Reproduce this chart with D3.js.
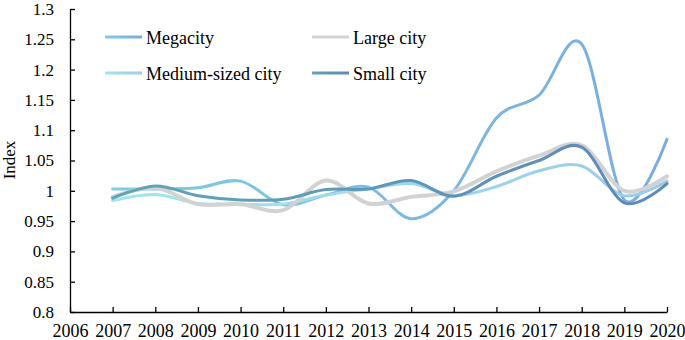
<!DOCTYPE html>
<html>
<head>
<meta charset="utf-8">
<script src="https://cdn.jsdelivr.net/npm/d3@7"></script>
<style>
  body { margin: 0; background: #fff; }
  text { font-family: "Liberation Serif", "Times New Roman", serif; fill: #000; }
</style>
</head>
<body>
<svg id="chart"></svg>
<script>
// Data
const years = [2007, 2008, 2009, 2010, 2011, 2012, 2013, 2014, 2015, 2016, 2017, 2018, 2019, 2020];
const megacity = [1.003, 1.003, 1.005, 1.016, 0.977, 0.993, 1.006, 0.954, 1.000, 1.120, 1.158, 1.242, 0.985, 1.085];
const largeCity = [0.990, 1.005, 0.978, 0.978, 0.968, 1.017, 0.979, 0.990, 0.999, 1.032, 1.058, 1.075, 1.000, 1.024];
const mediumCity = [0.984, 0.994, 0.979, 0.978, 0.978, 0.993, 1.003, 1.012, 0.992, 1.007, 1.033, 1.041, 0.992, 1.016];
const smallCity = [0.988, 1.008, 0.992, 0.985, 0.986, 1.002, 1.003, 1.017, 0.991, 1.024, 1.050, 1.072, 0.980, 1.012];
const xTicks = d3.range(2006, 2021);
const yTicks = [0.8, 0.85, 0.9, 0.95, 1, 1.05, 1.1, 1.15, 1.2, 1.25, 1.3];

const series = [
    { name: "Megacity", values: megacity, c0: "#7ecde0", c1: "#7aaae2", w: 3 },
    { name: "Large city", values: largeCity, c0: "#d2d2d2", c1: "#d2d2d2", w: 4 },
    { name: "Medium-sized city", values: mediumCity, c0: "#a3e4ef", c1: "#9acbea", w: 3 },
    { name: "Small city", values: smallCity, c0: "#5ea6b6", c1: "#5f88bc", w: 3 }
];

const margin = { top: 9, right: 18, bottom: 28, left: 70 };
const width = 685 - margin.left - margin.right;
const height = 340 - margin.top - margin.bottom;

const svg = d3.select("#chart")
    .attr("width", 685)
    .attr("height", 340);

const g = svg.append("g")
    .attr("transform", "translate(" + margin.left + "," + margin.top + ")");

const x = d3.scaleLinear().domain([2006, 2020]).range([0, width]);
const y = d3.scaleLinear().domain([0.8, 1.3]).range([height, 0]);

// gradients for the lines (left -> right)
const defs = svg.append("defs");
series.forEach((s, i) => {
    const gr = defs.append("linearGradient")
        .attr("id", "grad" + i)
        .attr("gradientUnits", "userSpaceOnUse")
        .attr("x1", x(2007)).attr("x2", x(2020))
        .attr("y1", 0).attr("y2", 0);
    gr.append("stop").attr("offset", "0%").attr("stop-color", s.c0);
    gr.append("stop").attr("offset", "100%").attr("stop-color", s.c1);
    const lg = defs.append("linearGradient").attr("id", "lgrad" + i);
    lg.append("stop").attr("offset", "0%").attr("stop-color", s.c0);
    lg.append("stop").attr("offset", "100%").attr("stop-color", s.c1);
});

// Lines
const line = d3.line()
    .x((d, i) => x(years[i]))
    .y(d => y(d))
    .curve(d3.curveCatmullRom.alpha(0));

// draw order: megacity under, then medium, large, small on top
[0, 2, 1, 3].forEach(i => {
    g.append("path")
        .datum(series[i].values)
        .attr("fill", "none")
        .attr("stroke", "url(#grad" + i + ")")
        .attr("stroke-width", series[i].w)
        .attr("stroke-linecap", "round")
        .attr("d", line);
});

// X axis
const xAxis = g.append("g")
    .attr("transform", "translate(0," + height + ")")
    .call(d3.axisBottom(x).tickValues(xTicks).tickFormat(d3.format("d")).tickSizeInner(-5).tickSizeOuter(0));
xAxis.selectAll("text").attr("y", 12).attr("dy", "0.71em").style("font-size", "18px");

// Y axis
const yAxis = g.append("g")
    .call(d3.axisLeft(y).tickValues(yTicks).tickFormat(d => String(+d.toFixed(2))).tickSizeInner(-5).tickSizeOuter(0));
yAxis.selectAll("text").attr("x", -16).style("font-size", "17px");

svg.selectAll(".domain, .tick line").attr("stroke", "#000").attr("stroke-width", 1.3);

// Y axis label
svg.append("text")
    .attr("transform", "rotate(-90)")
    .attr("x", -160)
    .attr("y", 15)
    .style("text-anchor", "middle")
    .style("font-size", "17px")
    .text("Index");

// Legend
const legendPos = [[105, 37], [312, 37], [105, 73], [312, 73]];
series.forEach((s, i) => {
    const lx = legendPos[i][0], ly = legendPos[i][1];
    svg.append("rect")
        .attr("x", lx).attr("y", ly - 1.5)
        .attr("width", 37).attr("height", 3)
        .attr("fill", "url(#lgrad" + i + ")");
    svg.append("text")
        .attr("x", lx + 41)
        .attr("y", ly + 6.5)
        .style("font-size", "18px")
        .text(s.name);
});
</script>
</body>
</html>
